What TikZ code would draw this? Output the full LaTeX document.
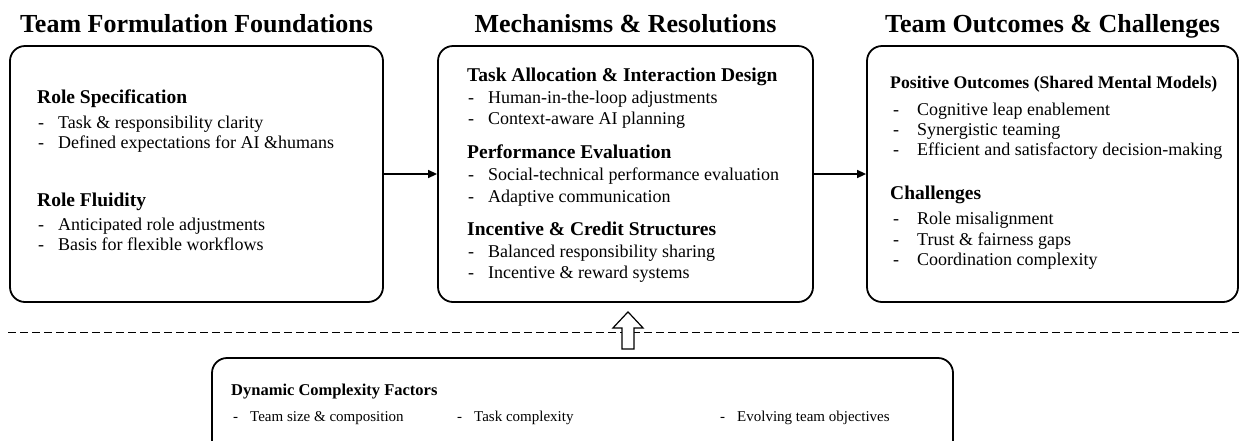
\documentclass[tikz,border=0pt]{standalone}
\usepackage{fontspec}
\setmainfont{Liberation Serif}
\usetikzlibrary{arrows.meta}

\tikzset{
  panel/.style={draw, line width=1.8pt, rounded corners=15pt, inner sep=0pt},
  paneltitle/.style={font=\bfseries\fontsize{26}{30}\selectfont, anchor=base, inner sep=0pt},
  head/.style={font=\bfseries\fontsize{19.5}{22}\selectfont, anchor=base west, inner sep=0pt},
  item/.style={font=\fontsize{18}{21}\selectfont, anchor=base west, inner sep=0pt},
  foothead/.style={font=\bfseries\fontsize{16.5}{19}\selectfont, anchor=base west, inner sep=0pt},
  footitem/.style={font=\fontsize{15}{18}\selectfont, anchor=base west, inner sep=0pt},
  flow/.style={line width=1.5pt, -{Triangle[length=9pt,width=8pt]}},
  lift/.style={draw, fill=white, line width=1.2pt, line join=miter},
  divider/.style={line width=1pt, dash pattern=on 7.5pt off 4.5pt}
}

\begin{document}
\begin{tikzpicture}[x=1pt, y=-1pt]
\useasboundingbox (0,0) rectangle (1239,440);
\clip (0,0) rectangle (1239,440);

% Panels
\node[panel, minimum width=373pt, minimum height=256pt] (found) at (196.5,174) {};
\node[panel, minimum width=375pt, minimum height=256pt] (mech) at (625.5,174) {};
\node[panel, minimum width=371pt, minimum height=256pt] (outc) at (1052.5,174) {};
\node[panel, minimum width=741pt, minimum height=112pt] (dyn) at (582.5,414) {};

% Panel titles
\node[paneltitle] (foundtitle) at (196.5,32) {Team Formulation Foundations};
\node[paneltitle] (mechtitle) at (625.5,32) {Mechanisms \& Resolutions};
\node[paneltitle] (outctitle) at (1052.5,32) {Team Outcomes \& Challenges};

% Foundations
\node[head] (spec) at (37,103) {Role Specification};
\foreach \y/\txt in {128/Task \& responsibility clarity, 148/Defined expectations for AI \&humans} {
  \node[item] (fd\y) at (38,\y) {-};
  \node[item] (fi\y) at (58,\y) {\txt};
}
\node[head] (fluid) at (37,206) {Role Fluidity};
\foreach \y/\txt in {230/Anticipated role adjustments, 250/Basis for flexible workflows} {
  \node[item] (fd\y) at (38,\y) {-};
  \node[item] (fi\y) at (58,\y) {\txt};
}

% Mechanisms
\node[head] (alloc) at (467,81) {Task Allocation \& Interaction Design};
\node[head] (perf) at (467,158) {Performance Evaluation};
\node[head] (incent) at (467,235) {Incentive \& Credit Structures};
\foreach \y/\txt in {103/Human-in-the-loop adjustments, 124/Context-aware AI planning,
    180/Social-technical performance evaluation, 202/Adaptive communication,
    257/Balanced responsibility sharing, 278/Incentive \& reward systems} {
  \node[item] (md\y) at (468,\y) {-};
  \node[item] (mi\y) at (488,\y) {\txt};
}

% Outcomes
\node[head, font=\bfseries\fontsize{17.7}{20}\selectfont] (pos) at (890,88) {Positive Outcomes (Shared Mental Models)};
\node[head] (chal) at (890,199) {Challenges};
\foreach \y/\txt in {115/Cognitive leap enablement, 135/Synergistic teaming,
    155/Efficient and satisfactory decision-making,
    224/Role misalignment, 245/Trust \& fairness gaps, 265/Coordination complexity} {
  \node[item] (od\y) at (893,\y) {-};
  \node[item] (oi\y) at (917,\y) {\txt};
}

% Dynamic factors
\node[foothead] (dyntitle) at (231,395) {Dynamic Complexity Factors};
\foreach \n/\x/\txt in {1/233/Team size \& composition, 2/457/Task complexity, 3/720/Evolving team objectives} {
  \node[footitem] (dd\n) at (\x,421) {-};
  \node[footitem] (di\n) at (\x+17,421) {\txt};
}

% Flow
\draw[flow] (found.east) -- (mech.west);
\draw[flow] (mech.east) -- (outc.west);

% Divider and upward influence
\draw[divider] (8,332) -- (1239,332);
\coordinate (uptip) at ([xshift=2.5pt, yshift=-9pt]mech.south);
\draw[lift] (uptip) -- ++(15,16) -- ++(-9,0) -- ++(0,21) -- ++(-12,0)
  -- ++(0,-21) -- ++(-9,0) -- cycle;
\end{tikzpicture}
\end{document}
